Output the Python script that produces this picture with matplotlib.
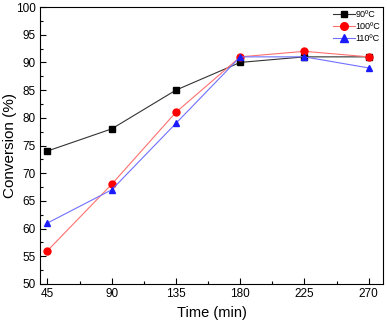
import matplotlib
matplotlib.use("Agg")
import matplotlib.pyplot as plt
from matplotlib.ticker import MultipleLocator

time = [45, 90, 135, 180, 225, 270]
c90 = [74, 78, 85, 90, 91, 91]
c100 = [56, 68, 81, 91, 92, 91]
c110 = [61, 67, 79, 91, 91, 89]
labels = ["90\u00baC", "100\u00baC", "110\u00baC"]

plt.rcParams['font.family'] = ['Liberation Sans', 'DejaVu Sans']
fig = plt.figure(figsize=(3.87, 3.23), dpi=100)
ax = fig.add_axes([40/387, 1-284/323, 343/387, 277/323])

ax.plot(time, c90, color='#333333', lw=0.8, marker='s', ms=4.3, mfc='black', mec='black', label=labels[0])
ax.plot(time, c100, color='#ff7070', lw=0.8, marker='o', ms=5, mfc='red', mec='red', label=labels[1])
ax.plot(time, c110, color='#7070ff', lw=0.8, marker='^', ms=5, mfc='#1a1aff', mec='#1a1aff', label=labels[2])

ax.set_xlim(39.8, 280)
ax.set_ylim(50, 100)
ax.set_xticks(time)
ax.xaxis.set_minor_locator(MultipleLocator(22.5))
ax.yaxis.set_major_locator(MultipleLocator(5))
ax.yaxis.set_minor_locator(MultipleLocator(2.5))
ax.tick_params(which='both', direction='in', top=False, right=False, labelsize=8.5, width=0.8)
ax.tick_params(which='major', length=4, pad=3)
ax.tick_params(which='minor', length=2)
for s in ax.spines.values():
    s.set_linewidth(0.8)
ax.set_xlabel('Time (min)', fontsize=10.5, labelpad=4)
ax.set_ylabel('Conversion (%)', fontsize=11)
ax.yaxis.set_label_coords(-0.068, 0.5)
ax.legend(loc='upper right', bbox_to_anchor=(1.0, 1.0), frameon=False, fontsize=6.5,
          handlelength=2.4, borderaxespad=0.0, borderpad=0.3, labelspacing=0.35,
          handletextpad=0.1, markerscale=1.1)
fig.savefig('out.png', dpi=100)
